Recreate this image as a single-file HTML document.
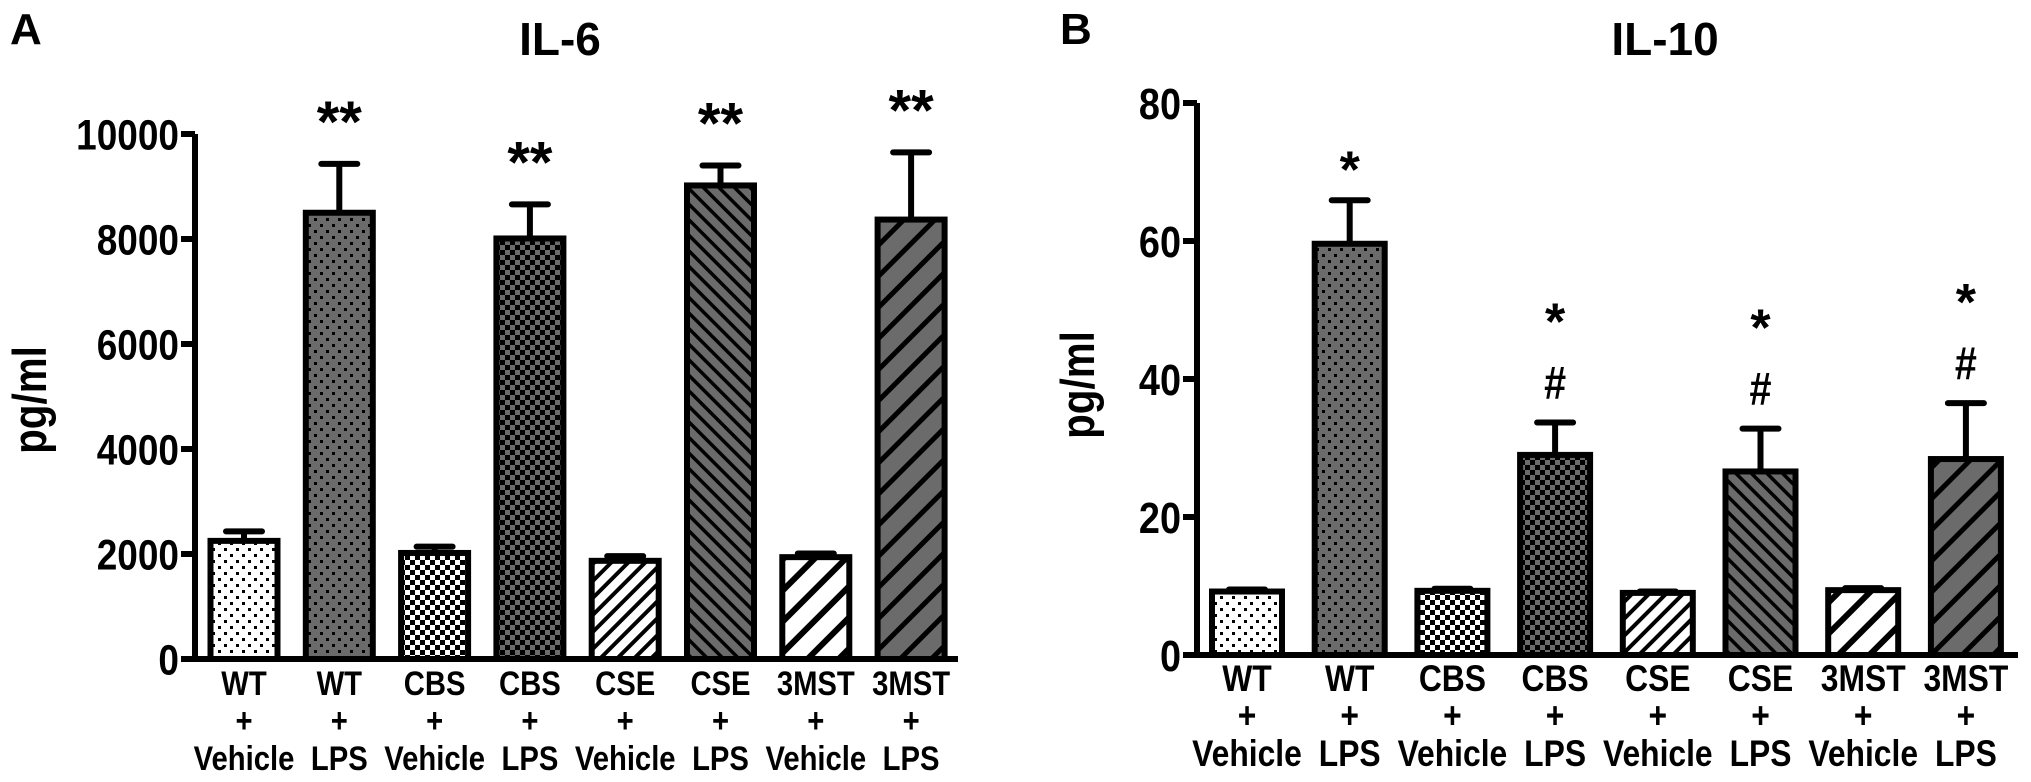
<!DOCTYPE html>
<html><head><meta charset="utf-8"><style>
html,body{margin:0;padding:0;background:#fff;}
svg{display:block;font-family:"Liberation Sans",Arial,sans-serif;font-weight:bold;}
</style></head><body>
<svg id="fig" width="2031" height="782" viewBox="0 0 2031 782" xmlns="http://www.w3.org/2000/svg">
<defs>
<pattern id="p0" width="12" height="12" patternUnits="userSpaceOnUse"><rect width="12" height="12" fill="#fff"/><rect x="2" y="2" width="3" height="3" fill="#000"/><rect x="8" y="8" width="3" height="3" fill="#000"/></pattern>
<pattern id="p1" width="12" height="12" patternUnits="userSpaceOnUse"><rect width="12" height="12" fill="#6b6b6b"/><rect x="2" y="2" width="3" height="3" fill="#000"/><rect x="8" y="8" width="3" height="3" fill="#000"/></pattern>
<pattern id="p2" width="10" height="10" patternUnits="userSpaceOnUse"><rect width="10" height="10" fill="#fff"/><rect width="5" height="5" fill="#000"/><rect x="5" y="5" width="5" height="5" fill="#000"/></pattern>
<pattern id="p3" width="10" height="10" patternUnits="userSpaceOnUse"><rect width="10" height="10" fill="#6b6b6b"/><rect width="5" height="5" fill="#000"/><rect x="5" y="5" width="5" height="5" fill="#000"/></pattern>
<pattern id="p4" width="12" height="12" patternUnits="userSpaceOnUse" patternTransform="rotate(45)"><rect width="12" height="12" fill="#fff"/><rect width="4" height="12" fill="#000"/></pattern>
<pattern id="p5" width="11" height="11" patternUnits="userSpaceOnUse" patternTransform="rotate(-45)"><rect width="11" height="11" fill="#6b6b6b"/><rect width="3.5" height="11" fill="#000"/></pattern>
<pattern id="p6" width="22" height="22" patternUnits="userSpaceOnUse" patternTransform="rotate(45)"><rect width="22" height="22" fill="#fff"/><rect width="6" height="22" fill="#000"/></pattern>
<pattern id="p7" width="22" height="22" patternUnits="userSpaceOnUse" patternTransform="rotate(45)"><rect width="22" height="22" fill="#6b6b6b"/><rect width="5" height="22" fill="#000"/></pattern>
</defs>
<text x="10" y="44" font-size="44">A</text>
<text x="560" y="55" font-size="46" text-anchor="middle">IL-6</text>
<text x="1060" y="44" font-size="44">B</text>
<text x="1665" y="55" font-size="46" text-anchor="middle">IL-10</text>
<g id="chartA"></g>
<g id="chartB"></g>
</svg>
<script>
const groups = ["WT","WT","CBS","CBS","CSE","CSE","3MST","3MST"];
const treatments = ["Vehicle","LPS","Vehicle","LPS","Vehicle","LPS","Vehicle","LPS"];
const il6Values = [2250, 8500, 2020, 8010, 1870, 9020, 1940, 8370];
const il6Errors = [180, 930, 120, 650, 90, 380, 70, 1280];
const il6Ticks = [0, 2000, 4000, 6000, 8000, 10000];
const il6Marks = ["", "**", "", "**", "", "**", "", "**"];
const il10Values = [9.2, 59.6, 9.3, 29.0, 9.0, 26.6, 9.4, 28.4];
const il10Errors = [0.3, 6.3, 0.3, 4.7, 0.2, 6.2, 0.3, 8.1];
const il10Ticks = [0, 20, 40, 60, 80];
const il10Marks = ["", "*", "", "*#", "", "*#", "", "*#"];
const patterns = ["p0","p1","p2","p3","p4","p5","p6","p7"];
const NS = "http://www.w3.org/2000/svg";
function mk(parent, tag, attrs, text){
  const e = document.createElementNS(NS, tag);
  for (const k in attrs) e.setAttribute(k, attrs[k]);
  if (text !== undefined) e.textContent = text;
  parent.appendChild(e); return e;
}
const SX = 0.86;
function draw(cfg){
  const g = document.getElementById(cfg.id);
  const y = v => cfg.y0 - v / cfg.max * (cfg.y0 - cfg.yTop);
  const x = i => cfg.x0 + i * cfg.step;
  const ax = mk(g, 'path', {d:`M${cfg.axX} ${y(cfg.max)} V${cfg.y0} M${cfg.axX-12} ${cfg.y0} H${cfg.axEnd}`, stroke:'#000', 'stroke-width':6, fill:'none'});
  
  
  cfg.ticks.forEach(t => {
    const tk = mk(g, 'line', {x1:cfg.axX-14, x2:cfg.axX, y1:y(t), y2:y(t), stroke:'#000', 'stroke-width':6});
    
    
    const tl = mk(g, 'text', {x:0, y:0, 'font-size':cfg.tickFs, 'text-anchor':'end', transform:`translate(${cfg.axX-16},${y(t)+cfg.tickFs*0.36}) scale(${SX},1)`}, String(t));
    
    
  });
  const yl = mk(g, 'text', {x:0, y:0, 'font-size':47, 'text-anchor':'middle', transform:`translate(${cfg.ylX},${cfg.ylY}) rotate(-90) scale(${SX},1)`}, 'pg/ml');
  
  
  cfg.values.forEach((v, i) => {
    const cx = x(i), top = y(v), et = y(v + cfg.errors[i]);
    const eb = mk(g, 'path', {d:`M${cx} ${top} V${et} M${cx-18} ${et} H${cx+18}`, stroke:'#000', 'stroke-width':6, 'stroke-linecap':'round', fill:'none'});
    
    
    const b = mk(g, 'rect', {x:cx-cfg.bw/2, y:top, width:cfg.bw, height:cfg.y0-top, fill:`url(#${patterns[i]})`, stroke:'#000', 'stroke-width':6});
    
    
    const m = cfg.marks[i];
    const hasHash = m.includes('#');
    if (hasHash) {
      const h = mk(g, 'text', {x:0, y:0, 'font-size':46, 'text-anchor':'middle', transform:`translate(${cx},${et-24}) scale(${SX},1)`}, '#');
      
      
    }
    const st = m.replace('#','');
    if (st) {
      const sy = hasHash ? et - 83 : et - cfg.starOff;
      const s = mk(g, 'text', {x:cx, y:sy, 'font-size':cfg.starFs, 'text-anchor':'middle'}, st);
      
      
    }
    const rows = [[groups[i], 36, 'x-label-group'], ['+', 73, 'x-label-plus'], [treatments[i], 111, 'x-label-treatment']];
    rows.forEach(r => {
      const l = mk(g, 'text', {x:0, y:0, 'font-size':cfg.labFs, 'text-anchor':'middle', transform:`translate(${cx},${cfg.y0+r[1]}) scale(${SX},1)`}, r[0]);
      
      
    });
  });
}
draw({id:'chartA', values:il6Values, errors:il6Errors, ticks:il6Ticks, marks:il6Marks, max:10000,
  y0:659, yTop:134, axX:195, axEnd:958, x0:244, step:95.3, bw:67, tickFs:43,
  ylX:46, ylY:400, labFs:34, starFs:58, starOff:22});
draw({id:'chartB', values:il10Values, errors:il10Errors, ticks:il10Ticks, marks:il10Marks, max:80,
  y0:655, yTop:103, axX:1197, axEnd:2018, x0:1247, step:102.7, bw:70, tickFs:44,
  ylX:1094, ylY:385, labFs:37, starFs:52, starOff:13});
</script>
</body></html>
